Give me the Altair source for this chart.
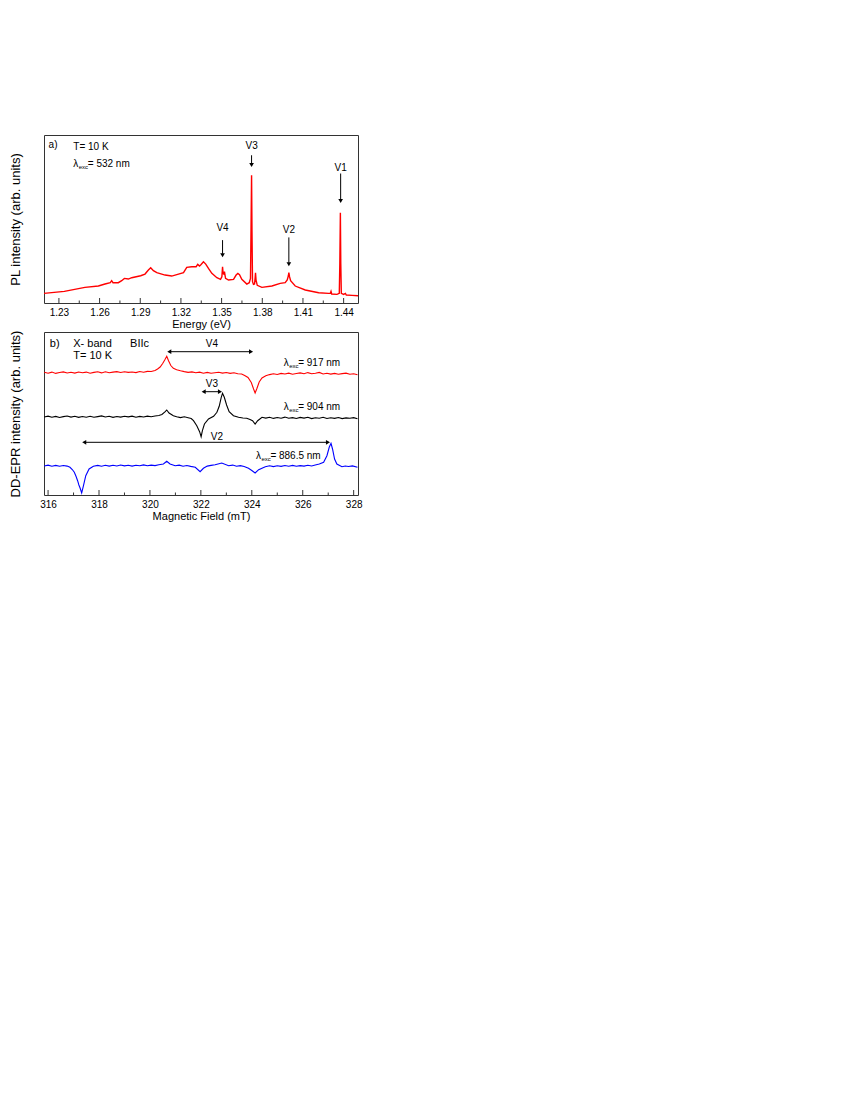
import altair as alt
import pandas as pd

FONT = "Liberation Sans"
FRAME = "#333333"
W = 314
HA = 168
HB = 163

# ---------------- panel a: PL spectrum ----------------
pl_energy = [1.2189, 1.2340, 1.2492, 1.2591, 1.2640, 1.2679, 1.2689, 1.2699, 1.2738, 1.2763,
             1.2783, 1.2812, 1.2837, 1.2903, 1.2935, 1.2960, 1.2977, 1.2997, 1.3022, 1.3083,
             1.3132, 1.3182, 1.3219, 1.3243, 1.3280, 1.3312, 1.3324, 1.3337, 1.3347, 1.3366,
             1.3383, 1.3403, 1.3428, 1.3465, 1.3492, 1.3502, 1.3507, 1.3511, 1.3516, 1.3521,
             1.3529, 1.3551, 1.3588, 1.3607, 1.3620, 1.3632, 1.3649, 1.3686, 1.3704, 1.3713,
             1.3717, 1.3721, 1.3724, 1.3728, 1.3735, 1.3743, 1.3748, 1.3750, 1.3754, 1.3763,
             1.3797, 1.3871, 1.3932, 1.3969, 1.3984, 1.3992, 1.3996, 1.4001, 1.4009, 1.4043,
             1.4117, 1.4216, 1.4289, 1.4302, 1.4307, 1.4312, 1.4351, 1.4368, 1.4372, 1.4376,
             1.4379, 1.4383, 1.4400, 1.4413, 1.4420, 1.4462, 1.4506]
pl_intensity = [9.67, 11.67, 15.67, 17.0, 19.0, 20.33, 22.33, 20.33, 20.33, 22.33,
                24.67, 24.0, 25.33, 27.33, 29.0, 33.0, 35.33, 32.33, 30.33, 28.0,
                27.0, 29.0, 30.33, 35.67, 36.33, 36.33, 38.67, 37.0, 38.33, 41.33,
                39.0, 34.67, 29.67, 25.33, 23.67, 26.33, 36.33, 29.67, 29.0, 31.33,
                24.67, 23.0, 23.67, 28.0, 29.67, 28.33, 23.67, 19.0, 20.33, 24.67,
                73.0, 128.0, 73.0, 21.33, 18.67, 19.0, 26.33, 30.33, 23.0, 17.67,
                15.67, 17.0, 19.67, 20.33, 23.0, 27.0, 30.33, 26.33, 22.33, 17.0,
                13.0, 10.33, 9.67, 9.67, 11.67, 9.0, 8.67, 9.67, 39.67, 90.33,
                39.67, 9.67, 8.67, 9.67, 8.0, 7.67, 7.33]
pl_major_ticks = [1.23, 1.26, 1.29, 1.32, 1.35, 1.38, 1.41, 1.44]
pl_minor_ticks = [1.245, 1.275, 1.305, 1.335, 1.365, 1.395, 1.425]
pl_peak_names = ["V4", "V3", "V2", "V1"]
pl_peak_energy = [1.3507, 1.3721, 1.3996, 1.4378]
pl_arrow_top = [63.0, 148.0, 65.7, 129.7]
pl_arrow_tip = [45.3, 135.7, 36.3, 99.7]
pl_label_y = [74.7, 157.0, 73.0, 135.7]

# ---------------- panel b: DD-EPR spectra ----------------
b917_field = [315.85, 316.0, 316.15, 316.3, 316.45, 316.6, 316.75, 316.9, 317.05, 317.2,
              317.35, 317.5, 317.65, 317.8, 317.95, 318.1, 318.25, 318.4, 318.55, 318.7,
              318.85, 319.0, 319.15, 319.3, 319.45, 319.6, 319.75, 319.9, 320.05, 320.2,
              320.3, 320.4, 320.5, 320.58, 320.66, 320.73, 320.82, 320.92, 321.05, 321.2,
              321.35, 321.5, 321.65, 321.8, 321.95, 322.1, 322.25, 322.4, 322.55, 322.7,
              322.85, 323.0, 323.15, 323.3, 323.45, 323.6, 323.72, 323.85, 323.98, 324.07,
              324.13, 324.2, 324.29, 324.4, 324.55, 324.7, 324.85, 325.0, 325.15, 325.3,
              325.45, 325.6, 325.75, 325.9, 326.05, 326.2, 326.35, 326.5, 326.65, 326.8,
              326.95, 327.1, 327.25, 327.4, 327.55, 327.7, 327.85, 328.0, 328.15]
b917_signal = [122.7, 121.8, 122.9, 121.6, 122.5, 123.1, 122.0, 122.8, 121.9, 123.0,
               122.2, 122.9, 121.7, 122.6, 123.2, 122.1, 123.3, 122.3, 122.9, 123.4,
               122.5, 123.3, 122.6, 123.0, 122.4, 123.5, 122.8, 123.6, 123.5, 124.5,
               126.0, 128.0, 131.5, 135.0, 138.7, 134.3, 129.5, 126.7, 125.3, 124.3,
               123.4, 122.6, 123.1, 122.2, 122.9, 121.8, 122.6, 121.7, 122.3, 122.8,
               121.9, 122.5, 121.6, 122.2, 121.3, 121.0, 119.5, 117.5, 112.5, 106.0,
               102.0, 106.5, 113.0, 117.0, 119.2, 120.4, 121.2, 120.5, 121.6, 121.0,
               121.9, 120.8, 121.5, 122.1, 121.2, 122.4, 121.3, 121.8, 122.6, 121.0,
               121.7, 120.9, 121.6, 120.7, 121.4, 121.9, 120.8, 121.2, 120.3]

b904_field = [315.85, 316.0, 316.15, 316.3, 316.45, 316.6, 316.75, 316.9, 317.05, 317.2,
              317.35, 317.5, 317.65, 317.8, 317.95, 318.1, 318.25, 318.4, 318.55, 318.7,
              318.85, 319.0, 319.15, 319.3, 319.45, 319.6, 319.75, 319.9, 320.05, 320.2,
              320.35, 320.47, 320.6, 320.66, 320.75, 320.92, 321.05, 321.2, 321.35, 321.5,
              321.62, 321.71, 321.84, 321.95, 322.01, 322.06, 322.14, 322.3, 322.5, 322.63,
              322.72, 322.8, 322.85, 322.92, 323.01, 323.11, 323.28, 323.48, 323.65, 323.8,
              323.93, 324.03, 324.13, 324.23, 324.4, 324.55, 324.7, 324.85, 325.0, 325.15,
              325.3, 325.45, 325.6, 325.75, 325.9, 326.05, 326.2, 326.35, 326.5, 326.65,
              326.8, 326.95, 327.1, 327.25, 327.4, 327.55, 327.7, 327.85, 328.0, 328.15]
b904_signal = [78.0, 78.9, 77.8, 78.6, 77.5, 78.4, 79.0, 77.9, 78.7, 77.6,
               78.5, 77.8, 78.8, 77.7, 78.4, 79.1, 78.0, 78.7, 77.6, 78.5,
               77.9, 78.8, 78.1, 78.9, 77.8, 78.6, 78.0, 78.9, 78.2, 79.0,
               79.5, 80.5, 83.3, 85.0, 82.0, 79.3, 78.3, 77.4, 78.2, 77.3,
               76.5, 74.3, 69.3, 63.3, 58.3, 64.3, 71.0, 76.0, 78.7, 82.7,
               88.7, 97.7, 101.7, 97.7, 90.0, 83.3, 79.3, 77.7, 77.0, 76.7,
               75.5, 74.3, 71.0, 74.3, 77.7, 76.9, 77.8, 76.6, 77.5, 76.8,
               77.9, 76.7, 77.4, 76.5, 77.6, 76.9, 77.8, 76.4, 77.3, 76.8,
               77.7, 76.5, 77.2, 76.6, 77.5, 76.4, 77.1, 76.7, 77.4, 76.3]

b886_field = [315.85, 316.0, 316.15, 316.3, 316.45, 316.6, 316.75, 316.86, 316.95, 317.03,
              317.1, 317.16, 317.21, 317.26, 317.32, 317.39, 317.48, 317.61, 317.78, 317.95,
              318.1, 318.25, 318.4, 318.55, 318.7, 318.85, 319.0, 319.15, 319.3, 319.45,
              319.6, 319.75, 319.9, 320.05, 320.2, 320.35, 320.53, 320.66, 320.79, 320.99,
              321.15, 321.3, 321.45, 321.6, 321.78, 321.97, 322.1, 322.25, 322.4, 322.56,
              322.82, 323.09, 323.25, 323.4, 323.55, 323.7, 323.87, 324.0, 324.13, 324.27,
              324.53, 324.7, 324.85, 325.0, 325.15, 325.3, 325.45, 325.6, 325.75, 325.9,
              326.05, 326.2, 326.35, 326.49, 326.65, 326.82, 326.95, 327.04, 327.11, 327.17,
              327.25, 327.34, 327.54, 327.67, 327.8, 327.95, 328.15]
b886_signal = [29.0, 29.9, 28.8, 29.6, 28.7, 29.5, 28.9, 27.7, 25.5, 22.7,
               18.5, 14.3, 10.0, 6.7, 2.0, 9.3, 19.3, 26.0, 28.7, 29.6,
               28.8, 29.7, 28.9, 29.8, 29.0, 30.0, 29.1, 29.8, 28.9, 29.7,
               29.2, 30.1, 29.3, 29.9, 29.4, 30.3, 31.0, 33.7, 31.0, 29.3,
               29.9, 28.8, 29.5, 28.6, 27.7, 23.3, 26.7, 28.9, 29.6, 30.3,
               32.0, 29.3, 29.9, 28.7, 29.4, 28.5, 26.7, 24.5, 22.0, 25.3,
               28.3, 29.2, 28.4, 29.3, 28.6, 29.5, 28.8, 29.6, 28.7, 29.4,
               28.9, 29.8, 29.0, 30.0, 31.0, 32.7, 39.3, 47.7, 51.7, 46.0,
               36.0, 31.0, 28.3, 29.0, 28.5, 29.1, 27.7]

epr_major_ticks = [316, 318, 320, 322, 324, 326, 328]
epr_minor_ticks = [317, 319, 321, 323, 325, 327]
epr_arrow_names = ["V4", "V3", "V2"]
epr_arrow_start = [320.66, 322.01, 317.32]
epr_arrow_end = [324.07, 322.85, 327.09]
epr_arrow_y = [143.3, 103.3, 52.7]
epr_label_x = [322.43, 322.43, 322.63]
epr_label_y = [151.0, 111.0, 57.7]
epr_lambda_text = ["= 917 nm", "= 904 nm", "= 886.5 nm"]
epr_lambda_x = [325.25, 325.25, 324.16]
epr_lambda_y = [132.0, 87.7, 39.3]

E_DOMAIN = [1.219, 1.4506]
IA_DOMAIN = [0, 168.3]
B_DOMAIN = [315.84, 328.17]
IB_DOMAIN = [0, 163]

# ---------------- encodings ----------------
AX_X_A = alt.Axis(values=pl_major_ticks, format=".2f", title="Energy (eV)", ticks=False,
                  domain=False, grid=False, labelPadding=4, titlePadding=1,
                  labelFontSize=10, titleFontSize=11, labelColor="#000", titleColor="#000",
                  titleFontWeight="normal")
AX_X_B = alt.Axis(values=epr_major_ticks, format="d", title="Magnetic Field (mT)", ticks=False,
                  domain=False, grid=False, labelPadding=4, titlePadding=1,
                  labelFontSize=10, titleFontSize=11, labelColor="#000", titleColor="#000",
                  titleFontWeight="normal")
AX_Y_A = alt.Axis(title="PL intensity (arb. units)", ticks=False, labels=False, domain=False,
                  grid=False, titlePadding=22, minExtent=0, titleFontSize=13,
                  titleColor="#000", titleFontWeight="normal")
AX_Y_B = alt.Axis(title="DD-EPR  intensity (arb. units)", ticks=False, labels=False, domain=False,
                  grid=False, titlePadding=22, minExtent=0, titleFontSize=13,
                  titleColor="#000", titleFontWeight="normal")


def xa(field):
    return alt.X(f"{field}:Q", scale=alt.Scale(domain=E_DOMAIN, nice=False, zero=False), axis=AX_X_A)


def ya(field):
    return alt.Y(f"{field}:Q", scale=alt.Scale(domain=IA_DOMAIN, nice=False, zero=False), axis=AX_Y_A)


def xb(field):
    return alt.X(f"{field}:Q", scale=alt.Scale(domain=B_DOMAIN, nice=False, zero=False), axis=AX_X_B)


def yb(field):
    return alt.Y(f"{field}:Q", scale=alt.Scale(domain=IB_DOMAIN, nice=False, zero=False), axis=AX_Y_B)


# ---------------- panel a ----------------
pl_df = pd.DataFrame({"E": pl_energy, "I": pl_intensity})
pl_line = alt.Chart(pl_df).mark_line(color="#ff0000", strokeWidth=1.4, clip=True).encode(
    x=xa("E"), y=ya("I"))

maj_a = alt.Chart(pd.DataFrame({"E": pl_major_ticks})).mark_rule(color=FRAME, strokeWidth=1).encode(
    x=xa("E"), y=alt.value(HA), y2=alt.value(HA - 5))
min_a = alt.Chart(pd.DataFrame({"E": pl_minor_ticks})).mark_rule(color=FRAME, strokeWidth=1).encode(
    x=xa("E"), y=alt.value(HA), y2=alt.value(HA - 2.5))

arr_a_df = pd.DataFrame({
    "name": pl_peak_names, "E": pl_peak_energy,
    "top": pl_arrow_top,
    "shaft_end": [t + 4 for t in pl_arrow_tip],
    "head": [t + 2.5 for t in pl_arrow_tip],
    "ly": pl_label_y,
})
arr_a_shaft = alt.Chart(arr_a_df).mark_rule(color="#000", strokeWidth=1).encode(
    x=xa("E"), y=ya("top"), y2="shaft_end:Q")
arr_a_head = alt.Chart(arr_a_df).mark_point(shape="triangle-down", filled=True, color="#000",
                                            size=22, opacity=1).encode(x=xa("E"), y=ya("head"))
arr_a_text = alt.Chart(arr_a_df).mark_text(font=FONT, fontSize=10, color="#000",
                                           align="center", baseline="middle").encode(
    x=xa("E"), y=ya("ly"), text="name:N")

ann_a = pd.DataFrame({"E": [1.2224, 1.2406], "I": [158.0, 156.3], "t": ["a)", "T= 10 K"]})
ann_a_text = alt.Chart(ann_a).mark_text(font=FONT, fontSize=10, color="#000", align="left",
                                        baseline="middle").encode(x=xa("E"), y=ya("I"), text="t:N")
lam_a = pd.DataFrame({"E": [1.2406], "I": [139.7]})
lam_a1 = alt.Chart(lam_a).mark_text(text="λ", font=FONT, fontSize=10, color="#000", align="left",
                                    baseline="middle").encode(x=xa("E"), y=ya("I"))
lam_a2 = alt.Chart(lam_a).mark_text(text="exc", font=FONT, fontSize=6, color="#000", align="left",
                                    baseline="middle", dx=5.5, dy=3).encode(x=xa("E"), y=ya("I"))
lam_a3 = alt.Chart(lam_a).mark_text(text="= 532 nm", font=FONT, fontSize=10, color="#000",
                                    align="left", baseline="middle", dx=14.5).encode(x=xa("E"), y=ya("I"))

panel_a = alt.layer(pl_line, maj_a, min_a, arr_a_shaft, arr_a_head, arr_a_text,
                    ann_a_text, lam_a1, lam_a2, lam_a3).properties(width=W, height=HA)

# ---------------- panel b ----------------
def trace(fields, signals, color):
    df = pd.DataFrame([{"B": b, "S": s} for b, s in zip(fields, signals)])
    return alt.Chart(df).mark_line(color=color, strokeWidth=1.1, clip=True).encode(
        x=xb("B"), y=yb("S"))


t917 = trace(b917_field, b917_signal, "#ff0000")
t904 = trace(b904_field, b904_signal, "#000000")
t886 = trace(b886_field, b886_signal, "#0000ff")

maj_b = alt.Chart(pd.DataFrame({"B": epr_major_ticks})).mark_rule(color=FRAME, strokeWidth=1).encode(
    x=xb("B"), y=alt.value(HB), y2=alt.value(HB - 5))
min_b = alt.Chart(pd.DataFrame({"B": epr_minor_ticks})).mark_rule(color=FRAME, strokeWidth=1).encode(
    x=xb("B"), y=alt.value(HB), y2=alt.value(HB - 2.5))

arr_b_df = pd.DataFrame({
    "name": epr_arrow_names,
    "b1": epr_arrow_start, "b2": epr_arrow_end,
    "h1": [v + 0.1 for v in epr_arrow_start],
    "h2": [v - 0.1 for v in epr_arrow_end],
    "s1": [v + 0.15 for v in epr_arrow_start],
    "s2": [v - 0.15 for v in epr_arrow_end],
    "y": epr_arrow_y, "lx": epr_label_x, "ly": epr_label_y,
})
arr_b_shaft = alt.Chart(arr_b_df).mark_rule(color="#000", strokeWidth=1).encode(
    x=xb("s1"), x2="s2:Q", y=yb("y"))
arr_b_head1 = alt.Chart(arr_b_df).mark_point(shape="triangle-left", filled=True, color="#000",
                                             size=22, opacity=1).encode(x=xb("h1"), y=yb("y"))
arr_b_head2 = alt.Chart(arr_b_df).mark_point(shape="triangle-right", filled=True, color="#000",
                                             size=22, opacity=1).encode(x=xb("h2"), y=yb("y"))
arr_b_text = alt.Chart(arr_b_df).mark_text(font=FONT, fontSize=10, color="#000", align="center",
                                           baseline="middle").encode(x=xb("lx"), y=yb("ly"), text="name:N")

ann_b = pd.DataFrame({"B": [316.07, 316.99, 319.22, 316.99], "S": [151.0, 151.0, 151.0, 139.3],
                      "t": ["b)", "X- band", "BIIc", "T= 10 K"]})
ann_b_text = alt.Chart(ann_b).mark_text(font=FONT, fontSize=11, color="#000", align="left",
                                        baseline="middle").encode(x=xb("B"), y=yb("S"), text="t:N")
lam_b = pd.DataFrame({"B": epr_lambda_x, "S": epr_lambda_y, "t": epr_lambda_text})
lam_b1 = alt.Chart(lam_b).mark_text(text="λ", font=FONT, fontSize=10, color="#000", align="left",
                                    baseline="middle").encode(x=xb("B"), y=yb("S"))
lam_b2 = alt.Chart(lam_b).mark_text(text="exc", font=FONT, fontSize=6, color="#000", align="left",
                                    baseline="middle", dx=5.5, dy=3).encode(x=xb("B"), y=yb("S"))
lam_b3 = alt.Chart(lam_b).mark_text(font=FONT, fontSize=10, color="#000", align="left",
                                    baseline="middle", dx=14.5).encode(x=xb("B"), y=yb("S"), text="t:N")

panel_b = alt.layer(t917, t904, t886, maj_b, min_b, arr_b_shaft, arr_b_head1, arr_b_head2,
                    arr_b_text, ann_b_text, lam_b1, lam_b2, lam_b3).properties(width=W, height=HB)

chart = alt.vconcat(panel_a, panel_b, spacing=-3).resolve_scale(x="independent", y="independent").properties(
    padding={"left": 0, "top": 126, "right": 10, "bottom": 10}
).configure(font=FONT).configure_view(stroke=FRAME, strokeWidth=1).configure_axis(
    labelFont=FONT, titleFont=FONT, grid=False)

chart.save("out.html", embed_options={"renderer": "svg", "actions": False})
